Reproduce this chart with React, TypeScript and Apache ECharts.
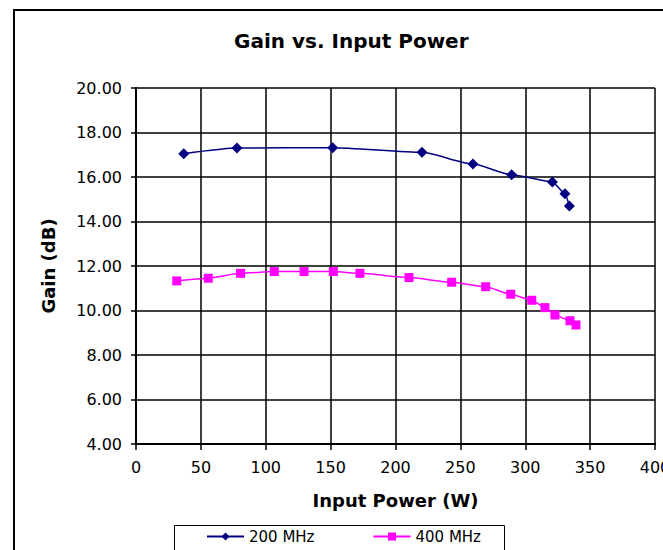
import React, { useEffect, useRef } from "react";
import * as echarts from "echarts";

const xTicks = [0, 50, 100, 150, 200, 250, 300, 350, 400];
const yTicks = [4, 6, 8, 10, 12, 14, 16, 18, 20];

const power200 = [36.8, 77.8, 151.6, 220.4, 259.7, 289.5, 320.9, 330.6, 334.0];
const gain200 = [17.05, 17.3, 17.32, 17.11, 16.58, 16.1, 15.78, 15.25, 14.7];

const power400 = [31.4, 55.7, 80.6, 106.6, 129.5, 152.1, 172.6, 210.4, 243.3, 269.5, 288.8, 305.0, 315.2, 322.9, 334.5, 339.1];
const gain400 = [11.33, 11.45, 11.67, 11.75, 11.75, 11.75, 11.67, 11.48, 11.27, 11.07, 10.73, 10.46, 10.13, 9.8, 9.54, 9.35];

const seriesNames = ["200 MHz", "400 MHz"];
const FONT = "DejaVu Sans";

export default function App() {
  const ref = useRef<HTMLDivElement>(null);
  useEffect(() => {
    if (!ref.current) return;
    const chart = echarts.init(ref.current, undefined, { renderer: "svg", width: 663, height: 550 });
    const pairs = (xs: number[], ys: number[]) => xs.map((x, i) => [x, ys[i]]);
    chart.setOption({
      animation: false,
      backgroundColor: "#ffffff",
      title: {
        text: "Gain vs. Input Power",
        left: 234,
        top: 31,
        padding: 0,
        textStyle: { fontFamily: FONT, fontSize: 20, fontWeight: "bold", color: "#000" },
      },
      graphic: [
        {
          type: "polyline",
          shape: { points: [[14, 600], [14, 10], [700, 10]] },
          style: { fill: "none", stroke: "#000", lineWidth: 2 },
          silent: true,
          z: -1,
        },
        {
          type: "polyline",
          shape: { points: [[174.5, 600], [174.5, 525.5], [504.5, 525.5], [504.5, 600]] },
          style: { fill: "none", stroke: "#000", lineWidth: 1 },
          silent: true,
          z: -1,
        },
      ],
      legend: {
        data: seriesNames,
        left: 206,
        top: 529,
        padding: 0,
        itemWidth: 37,
        itemHeight: 10,
        itemGap: 58,
        textStyle: { fontFamily: FONT, fontSize: 15, color: "#000" },
      },
      grid: {
        left: 136,
        width: 519,
        top: 88,
        height: 356,
        containLabel: false,
        outerBoundsMode: "none",
      },
      xAxis: {
        type: "value",
        min: xTicks[0],
        max: xTicks[xTicks.length - 1],
        interval: 50,
        name: "Input Power (W)",
        nameLocation: "middle",
        nameGap: 47,
        nameTextStyle: { fontFamily: FONT, fontSize: 18, fontWeight: "bold", color: "#000" },
        axisLine: { show: true, lineStyle: { color: "#000", width: 2 } },
        axisTick: { show: true, inside: false, length: 6, lineStyle: { color: "#000", width: 1.5 } },
        axisLabel: { margin: 15, fontFamily: FONT, fontSize: 16, color: "#000", hideOverlap: false },
        splitLine: { show: true, lineStyle: { color: "#000", width: 1.5 } },
      },
      yAxis: {
        type: "value",
        min: yTicks[0],
        max: yTicks[yTicks.length - 1],
        interval: 2,
        name: "Gain (dB)",
        nameLocation: "middle",
        nameGap: 79,
        nameTextStyle: { fontFamily: FONT, fontSize: 18, fontWeight: "bold", color: "#000" },
        axisLine: { show: true, lineStyle: { color: "#000", width: 2 } },
        axisTick: { show: true, inside: false, length: 5, lineStyle: { color: "#000", width: 1.5 } },
        axisLabel: {
          margin: 14,
          fontFamily: FONT,
          fontSize: 16,
          color: "#000",
          formatter: (v: number) => v.toFixed(2),
        },
        splitLine: { show: true, lineStyle: { color: "#000", width: 1.5 } },
      },
      series: [
        {
          name: seriesNames[0],
          type: "line",
          data: pairs(power200, gain200),
          smooth: 0.2,
          smoothMonotone: "x",
          symbol: "diamond",
          symbolSize: 11,
          color: "#000080",
          lineStyle: { color: "#000080", width: 1.5 },
          itemStyle: { color: "#000080" },
          z: 5,
        },
        {
          name: seriesNames[1],
          type: "line",
          data: pairs(power400, gain400),
          smooth: 0.2,
          smoothMonotone: "x",
          symbol: "rect",
          symbolSize: 9,
          color: "#ff00ff",
          lineStyle: { color: "#ff00ff", width: 1.5 },
          itemStyle: { color: "#ff00ff" },
          z: 5,
        },
      ],
    });
    return () => chart.dispose();
  }, []);
  return (
    <div
      ref={ref}
      style={{ position: "fixed", left: 0, top: 0, width: 663, height: 550, background: "#fff" }}
    />
  );
}
